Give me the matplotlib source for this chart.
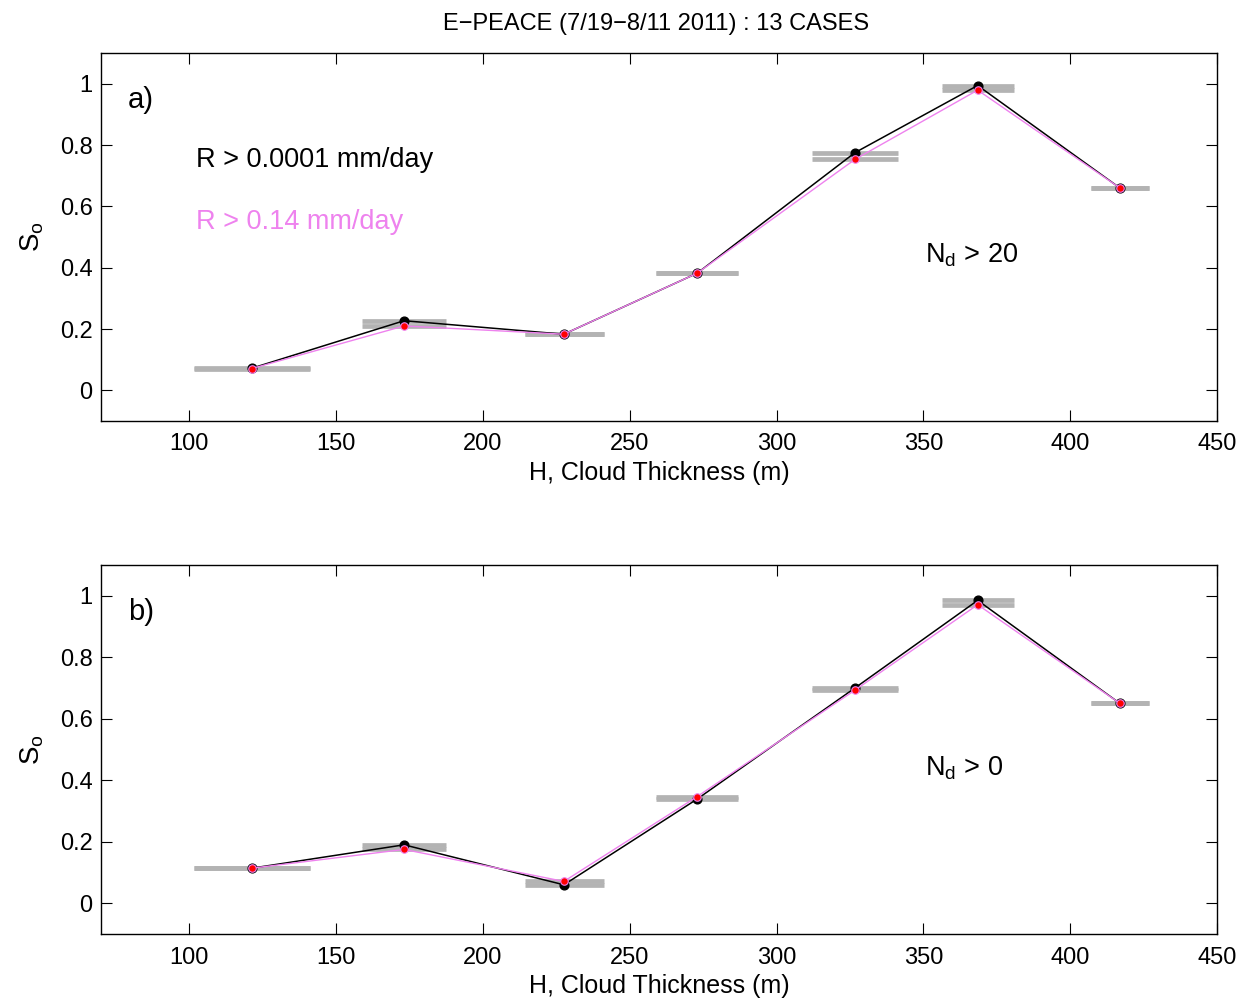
import matplotlib
matplotlib.use("Agg")
import matplotlib.pyplot as plt

plt.rcParams['font.family'] = ['Liberation Sans', 'DejaVu Sans']
plt.rcParams['mathtext.fontset'] = 'custom'
plt.rcParams['mathtext.rm'] = 'Liberation Sans'

# Data
H = [121.3, 173.2, 227.6, 273.0, 326.7, 368.5, 416.9]
bin_lo = [101.8, 159.0, 214.5, 258.8, 312.0, 356.5, 407.0]
bin_hi = [141.0, 187.5, 241.3, 287.0, 341.4, 380.7, 427.0]

so_a_low = [0.072, 0.227, 0.183, 0.382, 0.775, 0.994, 0.660]
so_a_high = [0.071, 0.210, 0.183, 0.382, 0.753, 0.979, 0.660]
so_b_low = [0.114, 0.190, 0.060, 0.339, 0.700, 0.985, 0.650]
so_b_high = [0.114, 0.175, 0.071, 0.347, 0.693, 0.971, 0.650]

xticks = [100, 150, 200, 250, 300, 350, 400, 450]
yticks = [0, 0.2, 0.4, 0.6, 0.8, 1]
ytick_labels = ['0', '0.2', '0.4', '0.6', '0.8', '1']

title = "E\u2212PEACE (7/19\u22128/11 2011) : 13 CASES"
label_low = "R > 0.0001 mm/day"
label_high = "R > 0.14 mm/day"

fig = plt.figure(figsize=(12.41, 10.0), dpi=100)
ax1 = fig.add_axes([0.0814, 0.579, 0.8993, 0.368])
ax2 = fig.add_axes([0.0814, 0.066, 0.8993, 0.369])

panels = [
    (ax1, so_a_low, so_a_high, 'a)', r'$\mathregular{N_d}$ > 20', True),
    (ax2, so_b_low, so_b_high, 'b)', r'$\mathregular{N_d}$ > 0', False),
]

gray = '#b3b3b3'
violet = '#ee82ee'

for ax, low, high, tag, ndtext, show_legend in panels:
    ax.hlines(low, bin_lo, bin_hi, colors=gray, lw=3.4, zorder=1, capstyle='butt')
    ax.hlines(high, bin_lo, bin_hi, colors=gray, lw=3.4, zorder=1, capstyle='butt')
    ax.plot(H, low, color='black', lw=1.1, marker='o', ms=6.3,
            mfc='black', mec='black', zorder=3)
    ax.plot(H, high, color=violet, lw=1.0, marker='o', ms=5.4,
            mfc='red', mec=violet, mew=0.8, zorder=4)
    ax.set_xlim(70, 450)
    ax.set_ylim(-0.1, 1.1)
    ax.set_xticks(xticks)
    ax.set_yticks(yticks)
    ax.set_yticklabels(ytick_labels)
    ax.tick_params(direction='in', length=8, width=0.8, top=True, right=True,
                   labelsize=17, pad=9)
    ax.tick_params(axis='y', pad=6)
    for s in ax.spines.values():
        s.set_linewidth(1.0)
    ax.set_xlabel('H, Cloud Thickness (m)', fontsize=18, labelpad=4)
    ax.set_ylabel(r'$\mathregular{S_o}$', fontsize=20, labelpad=10)
    ax.text(79.2, 0.948, tag, fontsize=21, ha='left', va='center')
    ax.text(350.6, 0.44, ndtext, fontsize=19.5, ha='left', va='center')
    if show_legend:
        ax.text(102.4, 0.752, label_low, fontsize=19.5, color='black',
                ha='left', va='center')
        ax.text(102.4, 0.550, label_high, fontsize=19.5, color=violet,
                ha='left', va='center')

fig.text(0.529, 0.976, title, fontsize=17, ha='center', va='center')

fig.savefig('out.png', dpi=100)
